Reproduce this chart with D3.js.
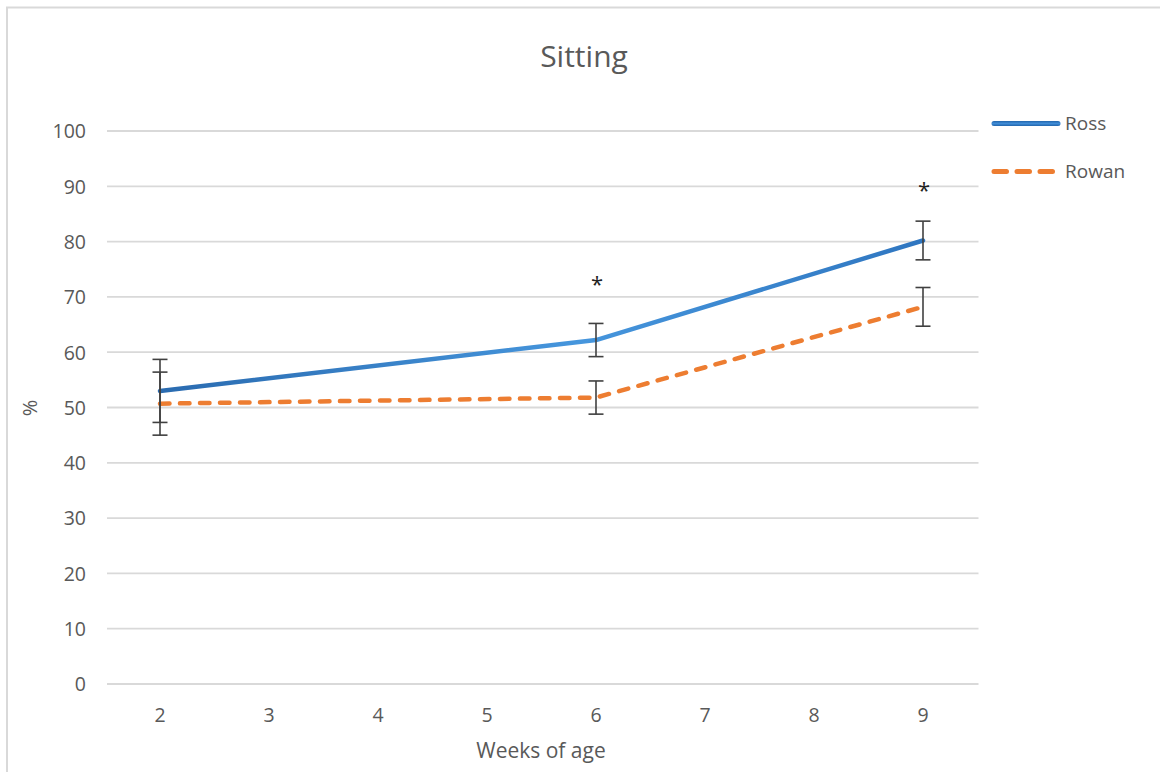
<!DOCTYPE html>
<html>
<head>
<meta charset="utf-8">
<script src="https://cdn.jsdelivr.net/npm/d3@7"></script>
<style>
  html, body { margin: 0; padding: 0; background: #fff; }
  svg { display: block; font-family: "Open Sans", sans-serif; }
</style>
</head>
<body>
<svg id="chart" width="1160" height="772"></svg>
<script>
// Weeks of age on the x axis
const weeks = [2, 3, 4, 5, 6, 7, 8, 9];
// Percentage of time spent sitting (null = not measured that week)
const rossValues  = [53.0, null, null, null, 62.2, null, null, 80.2];
const rowanValues = [50.7, null, null, null, 51.8, null, null, 68.2];
// Error bar half-widths
const rossErrors  = [5.7, null, null, null, 3.0, null, null, 3.5];
const rowanErrors = [5.7, null, null, null, 3.0, null, null, 3.5];
// Significance markers and the level (in %) where each is placed
const significance = ["", "", "", "", "*", "", "", "*"];
const significanceLevel = [null, null, null, null, 72.5, null, null, 89.5];
const yTicks = [0, 10, 20, 30, 40, 50, 60, 70, 80, 90, 100];
const seriesNames = ["Ross", "Rowan"];

const svg = d3.select("#chart");
const textColor = "#595959";

// Outer chart frame
svg.append("rect")
  .attr("x", 7).attr("y", 7.5)
  .attr("width", 1170).attr("height", 780)
  .attr("fill", "none").attr("stroke", "#d9d9d9").attr("stroke-width", 2);

const plot = { left: 105.5, right: 977.5, top: 131, bottom: 684 };

const x = d3.scaleBand().domain(weeks).range([plot.left, plot.right]).paddingInner(0).paddingOuter(0);
const cx = w => x(w) + x.bandwidth() / 2;
const y = d3.scaleLinear().domain([0, 100]).range([plot.bottom, plot.top]);

// Gridlines
svg.append("g").selectAll("line").data(yTicks).join("line")
  .attr("x1", plot.left + 1.5).attr("x2", plot.right + 1)
  .attr("y1", d => y(d)).attr("y2", d => y(d))
  .attr("stroke", "#d9d9d9").attr("stroke-width", 1.8);

// Y axis labels
const yAxis = d3.axisLeft(y).tickValues(yTicks).tickSize(0).tickPadding(0);
const gy = svg.append("g").attr("transform", "translate(86,0)").call(yAxis);
gy.select(".domain").remove();
gy.selectAll("text").attr("fill", textColor).attr("font-size", 19.5)
  .attr("font-family", "'Open Sans', sans-serif").attr("dy", "0.35em");

// X axis labels
const xAxis = d3.axisBottom(x).tickSize(0).tickPadding(0);
const gx = svg.append("g").attr("transform", `translate(0,${plot.bottom + 23})`).call(xAxis);
gx.select(".domain").remove();
gx.selectAll("text").attr("fill", textColor).attr("font-size", 19.5)
  .attr("font-family", "'Open Sans', sans-serif").attr("dy", "0.75em");

// Title and axis titles
svg.append("text").attr("x", 584).attr("y", 67).attr("text-anchor", "middle")
  .attr("font-size", 30).attr("fill", textColor).text("Sitting");
svg.append("text").attr("x", 541).attr("y", 758).attr("text-anchor", "middle")
  .attr("font-size", 21).attr("fill", textColor).text("Weeks of age");
svg.append("text").attr("transform", "translate(37,408) rotate(-90)")
  .attr("text-anchor", "middle").attr("font-size", 20).attr("fill", textColor).text("%");

// Gradient stroke for Ross line
const defs = svg.append("defs");
const grad = defs.append("linearGradient").attr("id", "rossGrad")
  .attr("gradientUnits", "userSpaceOnUse")
  .attr("x1", cx(2)).attr("x2", cx(9)).attr("y1", 0).attr("y2", 0);
grad.append("stop").attr("offset", "0%").attr("stop-color", "#2a6bb0");
grad.append("stop").attr("offset", "55%").attr("stop-color", "#4696dd");
grad.append("stop").attr("offset", "100%").attr("stop-color", "#2f76c0");
const legGrad = defs.append("linearGradient").attr("id", "rossLegGrad")
  .attr("x1", 0).attr("x2", 0).attr("y1", 0).attr("y2", 1);
legGrad.append("stop").attr("offset", "0%").attr("stop-color", "#2266ad");
legGrad.append("stop").attr("offset", "50%").attr("stop-color", "#3f8cd6");
legGrad.append("stop").attr("offset", "100%").attr("stop-color", "#2266ad");

const toPoints = vals => weeks.map((w, i) => ({ w, v: vals[i], i })).filter(d => d.v != null);
const line = d3.line().x(d => cx(d.w)).y(d => y(d.v));

// Rowan series (dashed orange)
svg.append("path").datum(toPoints(rowanValues))
  .attr("d", line).attr("fill", "none")
  .attr("stroke", "#ED7D31").attr("stroke-width", 4.5)
  .attr("stroke-dasharray", "9.5,10.5").attr("stroke-linecap", "round")
  .attr("stroke-linejoin", "round");

// Ross series (solid blue)
svg.append("path").datum(toPoints(rossValues))
  .attr("d", line).attr("fill", "none")
  .attr("stroke", "url(#rossGrad)").attr("stroke-width", 4.5)
  .attr("stroke-linecap", "round").attr("stroke-linejoin", "round");

// Error bars
function errorBars(vals, errs) {
  const pts = weeks.map((w, i) => ({ w, v: vals[i], e: errs[i] })).filter(d => d.v != null);
  const g = svg.append("g").attr("stroke", "#404040").attr("stroke-width", 1.6);
  pts.forEach(d => {
    const xx = cx(d.w), yt = y(d.v + d.e), yb = y(d.v - d.e);
    g.append("line").attr("x1", xx).attr("x2", xx).attr("y1", yt).attr("y2", yb);
    g.append("line").attr("x1", xx - 7.5).attr("x2", xx + 7.5).attr("y1", yt).attr("y2", yt);
    g.append("line").attr("x1", xx - 7.5).attr("x2", xx + 7.5).attr("y1", yb).attr("y2", yb);
  });
}
errorBars(rossValues, rossErrors);
errorBars(rowanValues, rowanErrors);

// Significance markers
svg.append("g").selectAll("text")
  .data(weeks.map((w, i) => ({ w, s: significance[i], lvl: significanceLevel[i] })).filter(d => d.s))
  .join("text")
  .attr("x", d => cx(d.w) + 1).attr("y", d => y(d.lvl) + 9)
  .attr("text-anchor", "middle").attr("font-size", 22).attr("fill", "#222")
  .text(d => d.s);

// Legend
const legend = svg.append("g");
seriesNames.forEach((name, i) => {
  const ly = 123.5 + i * 48;
  if (i === 0) {
    legend.append("rect").attr("x", 991.5).attr("y", ly - 2.5).attr("width", 69).attr("height", 5)
      .attr("rx", 2.5).attr("fill", "url(#rossLegGrad)");
  } else {
    legend.append("line").attr("x1", 994).attr("x2", 1058).attr("y1", ly).attr("y2", ly)
      .attr("stroke-width", 5).attr("stroke-linecap", "round")
      .attr("stroke", "#ED7D31").attr("stroke-dasharray", "12.5,10.5");
  }
  legend.append("text").attr("x", 1065).attr("y", ly).attr("dy", "0.35em")
    .attr("font-size", 19).attr("fill", textColor).text(name);
});
</script>
</body>
</html>
